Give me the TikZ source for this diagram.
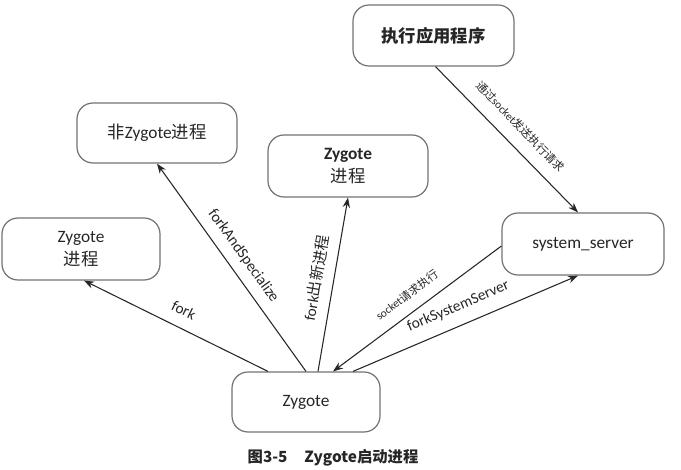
\documentclass[tikz,border=0pt]{standalone}
\usepackage{fontspec}
\setmainfont{Carlito}
\newfontfamily\cjk{Noto Sans CJK SC}
\usetikzlibrary{arrows.meta}
\newcommand{\zh}[1]{{\cjk #1}}
\begin{document}
\begin{tikzpicture}[x=0.75pt,y=-0.75pt,
  proc/.style={draw=black!55, line width=0.9pt, rounded corners=12pt, fill=white,
    align=center, inner sep=0pt, text=black!85,
    font=\fontsize{13}{17.5}\selectfont},
  flow/.style={draw=black!85, line width=0.8pt, -{Stealth[length=7.5pt,width=5.5pt]}},
  lbl/.style={sloped, inner sep=0pt, text=black!85, font=\fontsize{11.5}{13}\selectfont},
  small/.style={sloped, inner sep=0pt, text=black!85, font=\fontsize{8.5}{10}\selectfont}
]
\useasboundingbox (0,0) rectangle (681,470);

% process boxes
\node[proc, minimum width=120.75pt, minimum height=45.75pt] (app) at (433.5,35.5)
  {\zh{\bfseries 执行应用程序}};
\node[proc, minimum width=120pt, minimum height=45pt] (nz) at (157,133)
  {\zh{非}Zygote\zh{进程}};
\node[proc, minimum width=120pt, minimum height=46.5pt] (mz) at (348,166)
  {\textbf{Zygote}\\\zh{进程}};
\node[proc, minimum width=118.5pt, minimum height=46.5pt] (lz) at (81,249)
  {Zygote\\\zh{进程}};
\node[proc, minimum width=121.5pt, minimum height=46.5pt] (ss) at (583,244)
  {system\_server};
\node[proc, minimum width=111pt, minimum height=45pt] (zyg) at (306,402)
  {Zygote};

% connectors
\draw[flow] ([shift={(-38,0)}]zyg.north) -- node[lbl, above=9pt] {fork} ([shift={(3,0)}]lz.south);
\draw[flow] (zyg.north) -- node[lbl, pos=0.51, above=7pt] {forkAndSpecialize} (nz.south);
\draw[flow] ([shift={(12,0)}]zyg.north) -- node[lbl, pos=0.52, above=7.5pt] {fork\zh{出新进程}} (mz.south);
\draw[flow] ([shift={(0,2)}]ss.west) -- node[small, above=8.5pt] {socket\zh{请求执行}} ([shift={(27,0)}]zyg.north);
\draw[flow] ([shift={(47,0)}]zyg.north) -- node[lbl, above=8.6pt] {forkSystemServer} ([shift={(-5,0)}]ss.south);
\draw[flow] ([shift={(2,0)}]app.south) -- node[small, above=9.7pt] {\zh{通过}socket\zh{发送执行请求}} ([shift={(-5,0)}]ss.north);

% caption
\node[font=\cjk\bfseries\fontsize{11.5}{14}\selectfont, text=black!85] (cap) at (333,458)
  {图3-5\hspace{1.1em}Zygote启动进程};
\end{tikzpicture}
\end{document}
